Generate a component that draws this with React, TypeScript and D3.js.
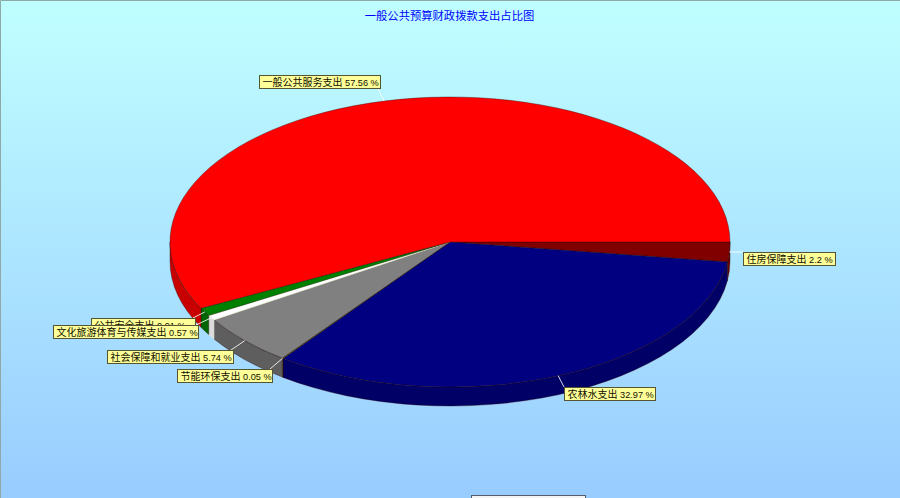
import React from "react";
import * as d3 from "d3";

const chartTitle = "一般公共预算财政拨款支出占比图";
const categories = ["住房保障支出", "农林水支出", "节能环保支出", "社会保障和就业支出", "文化旅游体育与传媒支出", "公共安全支出", "一般公共服务支出"];
const shares = [2.2, 32.97, 0.05, 5.74, 0.57, 0.91, 57.56];
const topColors = ["#800000", "#000080", "#808000", "#808080", "#ffffff", "#008000", "#ff0000"];
const sideColors = ["#660000", "#000066", "#666600", "#5e5e5e", "#dcdcdc", "#006600", "#c80000"];

// label box layout, indexed like categories: [left, top, width]
const labelBoxes: [number, number, number][] = [
  [743, 252, 92],
  [564, 387, 91],
  [177, 369, 95],
  [107, 350, 126],
  [53, 325, 145],
  [91, 318, 104],
  [259, 75, 121],
];
const labelOrder = [0, 1, 2, 3, 5, 4, 6];

const W = 900, H = 498;
const cx = 450, cy = 242, rx = 280, ry = 145, depth = 19;

const pt = (a: number, dy = 0): [number, number] => [cx + rx * Math.cos(a), cy + ry * Math.sin(a) + dy];

function topPath(a0: number, a1: number) {
  const [x0, y0] = pt(a0);
  const [x1, y1] = pt(a1);
  return `M${cx},${cy}L${x0},${y0}A${rx},${ry} 0 ${a1 - a0 > Math.PI ? 1 : 0} 1 ${x1},${y1}Z`;
}
function wallPath(a0: number, a1: number) {
  const s = Math.max(a0, 0), e = Math.min(a1, Math.PI);
  if (e <= s) return "";
  const [x0, y0] = pt(s);
  const [x1, y1] = pt(e);
  return `M${x0},${y0}A${rx},${ry} 0 0 1 ${x1},${y1}L${x1},${y1 + depth}A${rx},${ry} 0 0 0 ${x0},${y0 + depth}Z`;
}

export default function App() {
  const slices = d3.pie<number>().sort(null).startAngle(0).endAngle(2 * Math.PI)(shares);
  const boxH = 14;
  return (
    <svg width={W} height={H} viewBox={`0 0 ${W} ${H}`} style={{ position: "absolute", left: 0, top: 0, display: "block" }}>
      <defs>
        <linearGradient id="bg" x1="0" y1="0" x2="0" y2="1">
          <stop offset="0" stopColor="#c0ffff" />
          <stop offset="1" stopColor="#99ccff" />
        </linearGradient>
      </defs>
      <rect width={W} height={H} fill="url(#bg)" />
      <path d={`M0.5,${H}V0.5H${W}`} fill="none" stroke="#8fa8a8" />
      <text x={449.5} y={20} textAnchor="middle" fontSize={11.3} fill="#0000ff" fontFamily="'Noto Sans CJK SC', sans-serif">{chartTitle}</text>

      {slices.map((s, i) => (
        <path key={"w" + i} d={wallPath(s.startAngle, s.endAngle)} fill={sideColors[i]} stroke={i === 4 ? "#dcdcdc" : "#300000"} strokeOpacity={i === 4 ? 1 : 0.45} strokeWidth={0.8} />
      ))}
      {slices.map((s, i) => (
        <path key={"t" + i} d={topPath(s.startAngle, s.endAngle)} fill={topColors[i]} stroke={i === 4 ? "#e8e8c8" : "#200000"} strokeOpacity={i === 4 ? 1 : 0.5} strokeWidth={0.7} />
      ))}

      {labelOrder.map((i) => {
        const s = slices[i];
        const [px, py] = pt((s.startAngle + s.endAngle) / 2);
        const [bx, by, bw] = labelBoxes[i];
        const tx = Math.max(bx, Math.min(bx + bw, px));
        const ty = Math.max(by, Math.min(by + boxH, py));
        const lx = i === 0 ? bx : tx - (i === 1 ? 0 : 2);
        return <line key={"l" + i} x1={px} y1={py} x2={lx} y2={ty} stroke="#ffffff" strokeOpacity={0.85} strokeWidth={1} />;
      })}
      {labelOrder.map((i) => {
        const [bx, by, bw] = labelBoxes[i];
        return (
          <g key={"b" + i}>
            <rect x={bx + 0.5} y={by + 0.5} width={bw} height={boxH - 1} fill="#ffff99" stroke="#555533" strokeWidth={1} />
            <text x={bx + 3.5} y={by + 11} fontSize={10} fill="#111100" fontFamily="'Liberation Sans', 'Noto Sans CJK SC', sans-serif">
              <tspan>{categories[i]}</tspan>
              <tspan fontSize={9.2}>{` ${shares[i]} %`}</tspan>
            </text>
          </g>
        );
      })}

      <rect x={471.5} y={495.5} width={114} height={10} fill="#f4f4f4" stroke="#555e66" strokeWidth={1} />
    </svg>
  );
}
